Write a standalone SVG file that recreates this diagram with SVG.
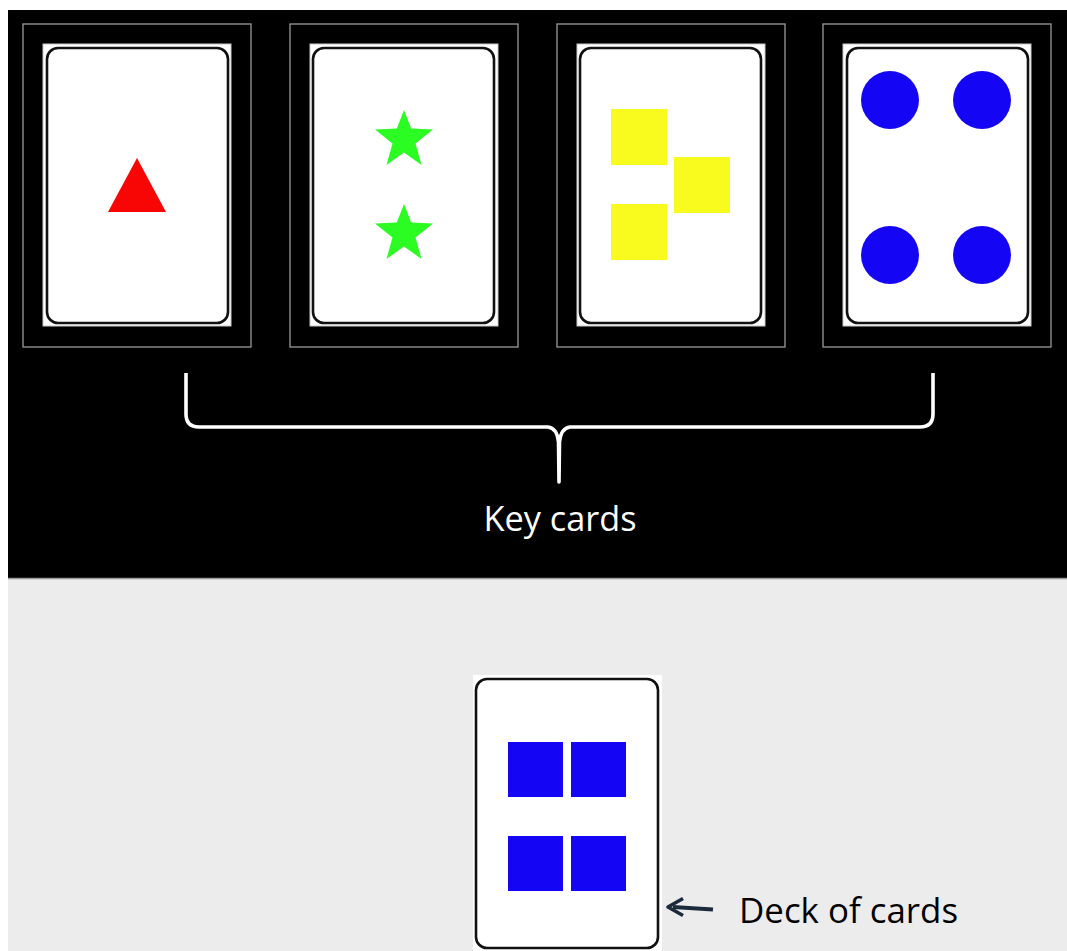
<svg xmlns="http://www.w3.org/2000/svg" width="1067" height="951" viewBox="0 0 1067 951">
<style>
.frame{fill:none;stroke:#9a9a9a;stroke-width:1.3}
.inner{fill:#fff;stroke:#c8c8c8;stroke-width:1}
.card{fill:#fff;stroke:#111;stroke-width:2.6}
.lbl{font-family:"Open Sans","Liberation Sans",Arial,sans-serif;font-size:34px}
</style>
<defs>
<polygon id="star" points="0,-28 7.2,-9.5 29,-8.5 11.5,5.5 17.5,27 0,14.5 -17.5,27 -11.5,5.5 -29,-8.5 -7.2,-9.5" fill="#2bfc22"/>
</defs>
<rect x="0" y="0" width="1067" height="951" fill="#fff"/>
<rect x="8" y="10" width="1059" height="568" fill="#000"/>
<rect x="8" y="578" width="1059" height="373" fill="#ececec"/>
<line x1="8" y1="578.5" x2="1067" y2="578.5" stroke="#999" stroke-width="1.5"/>
<g id="key1">
<rect class="frame" x="23" y="24" width="228" height="323"/>
<rect class="inner" x="43" y="44" width="188" height="282"/>
<rect class="card" x="47" y="48" width="181" height="275" rx="11"/>
<polygon points="137,158 108,212 166,212" fill="#f80606"/>
</g>
<g id="key2">
<rect class="frame" x="290" y="24" width="228" height="323"/>
<rect class="inner" x="310" y="44" width="188" height="282"/>
<rect class="card" x="313" y="48" width="181" height="275" rx="11"/>
<use href="#star" x="404" y="138"/>
<use href="#star" x="404" y="232"/>
</g>
<g id="key3">
<rect class="frame" x="557" y="24" width="228" height="323"/>
<rect class="inner" x="577" y="44" width="188" height="282"/>
<rect class="card" x="580" y="48" width="181" height="275" rx="11"/>
<rect x="611" y="109" width="56" height="56" fill="#f9fb1e"/>
<rect x="674" y="157" width="56" height="56" fill="#f9fb1e"/>
<rect x="611" y="204" width="56" height="56" fill="#f9fb1e"/>
</g>
<g id="key4">
<rect class="frame" x="823" y="24" width="228" height="323"/>
<rect class="inner" x="843" y="44" width="188" height="282"/>
<rect class="card" x="847" y="48" width="181" height="275" rx="11"/>
<g fill="#1505f5">
<circle cx="890" cy="100" r="29"/>
<circle cx="982" cy="100" r="29"/>
<circle cx="890" cy="255" r="29"/>
<circle cx="982" cy="255" r="29"/>
</g>
</g>
<g id="deck">
<rect x="473" y="675" width="189" height="280" fill="#fff"/>
<rect class="card" x="476" y="679" width="182" height="269" rx="11"/>
<g fill="#1505f5">
<rect x="508" y="742" width="55" height="55"/>
<rect x="571" y="742" width="55" height="55"/>
<rect x="508" y="836" width="55" height="55"/>
<rect x="571" y="836" width="55" height="55"/>
</g>
</g>
<g id="connectors">
<path d="M186,373 L186,414 Q186,427 199,427 L548,427 Q557,428 558.5,442 L559,482 L559.5,442 Q561,428 570,427 L920,427 Q933,427 933,414 L933,373" fill="none" stroke="#fff" stroke-width="3.6" stroke-linejoin="round"/>
<path d="M713,909.5 L673,907" fill="none" stroke="#1c2a3c" stroke-width="4"/>
<path d="M683,898.5 L668,907 L683,915.5" fill="none" stroke="#1c2a3c" stroke-width="3.6" stroke-linejoin="round"/>
</g>
<g id="labels">
<text class="lbl" x="560" y="531" text-anchor="middle" fill="#fff" textLength="153" lengthAdjust="spacingAndGlyphs">Key cards</text>
<text class="lbl" x="739" y="923" fill="#000" textLength="219" lengthAdjust="spacingAndGlyphs">Deck of cards</text>
</g>
</svg>
